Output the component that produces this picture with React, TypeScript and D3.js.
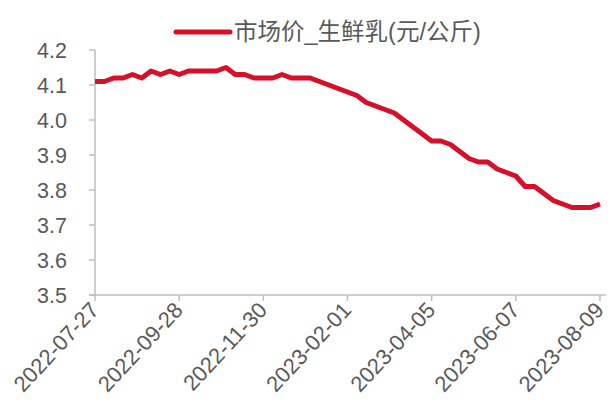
import React from 'react'
import * as d3 from 'd3'

const firstDate = '2022-07-27'
const tickLabels = ['2022-07-27', '2022-09-28', '2022-11-30', '2023-02-01', '2023-04-05', '2023-06-07', '2023-08-09']
const yTicks = [3.5, 3.6, 3.7, 3.8, 3.9, 4.0, 4.1, 4.2]
const seriesName = '市场价_生鲜乳(元/公斤)'
// weekly price, one point per week from firstDate
const priceValues = [
  4.11, 4.11, 4.12, 4.12, 4.13, 4.12, 4.14, 4.13, 4.14, 4.13,
  4.14, 4.14, 4.14, 4.14, 4.15, 4.13, 4.13, 4.12, 4.12, 4.12,
  4.13, 4.12, 4.12, 4.12, 4.11, 4.1, 4.09, 4.08, 4.07, 4.05,
  4.04, 4.03, 4.02, 4.0, 3.98, 3.96, 3.94, 3.94, 3.93, 3.91,
  3.89, 3.88, 3.88, 3.86, 3.85, 3.84, 3.81, 3.81, 3.79, 3.77,
  3.76, 3.75, 3.75, 3.75, 3.76,
]

const width = 611
const height = 405
const margin = { left: 95, top: 50, right: 11, bottom: 110 }
const red = '#d7102a'
const axisColor = '#bfbfbf'
const textColor = '#595959'
const font = '"Liberation Sans", Arial, "Noto Sans CJK SC", sans-serif'

const parse = d3.utcParse('%Y-%m-%d')
const start = parse(firstDate) as Date
const points = priceValues.map((v, i) => ({ date: d3.utcDay.offset(start, i * 7), value: v }))

const xScale = d3
  .scaleUtc()
  .domain([parse(tickLabels[0]) as Date, parse(tickLabels[tickLabels.length - 1]) as Date])
  .range([margin.left, width - margin.right])

const yScale = d3
  .scaleLinear()
  .domain([3.5, 4.2])
  .range([height - margin.bottom, margin.top])

const line = d3
  .line<{ date: Date; value: number }>()
  .x(d => xScale(d.date))
  .y(d => yScale(d.value))

export default function App() {
  const bottom = height - margin.bottom
  return (
    <svg
      width={width}
      height={height}
      style={{ position: 'absolute', left: 0, top: 0, background: '#fff' }}
      fontFamily={font}
    >
      {/* legend */}
      <line x1={176} x2={230} y1={32} y2={32} stroke={red} strokeWidth={5} strokeLinecap="round" />
      <text x={234} y={40} fontSize={23.5} fill={textColor}>
        {seriesName}
      </text>

      {/* y axis */}
      <line x1={margin.left} x2={margin.left} y1={margin.top} y2={bottom} stroke={axisColor} strokeWidth={1.5} />
      {yTicks.map(t => (
        <g key={t}>
          <line x1={margin.left - 6} x2={margin.left} y1={yScale(t)} y2={yScale(t)} stroke={axisColor} strokeWidth={1.5} />
          <text x={67} y={yScale(t) + 7.5} fontSize={21.5} fill={textColor} textAnchor="end">
            {t.toFixed(1)}
          </text>
        </g>
      ))}

      {/* x axis */}
      <line x1={margin.left - 6} x2={width - 5} y1={bottom} y2={bottom} stroke={axisColor} strokeWidth={1.5} />
      {tickLabels.map(lbl => {
        const x = xScale(parse(lbl) as Date)
        return (
          <g key={lbl}>
            <line x1={x} x2={x} y1={bottom} y2={bottom + 6} stroke={axisColor} strokeWidth={1.5} />
            <text
              transform={`translate(${x + 5},${bottom + 16}) rotate(-47)`}
              fontSize={22}
              fill={textColor}
              textAnchor="end"
            >
              {lbl}
            </text>
          </g>
        )
      })}

      <path d={line(points) || ''} fill="none" stroke={red} strokeWidth={5} strokeLinejoin="round" />
    </svg>
  )
}
